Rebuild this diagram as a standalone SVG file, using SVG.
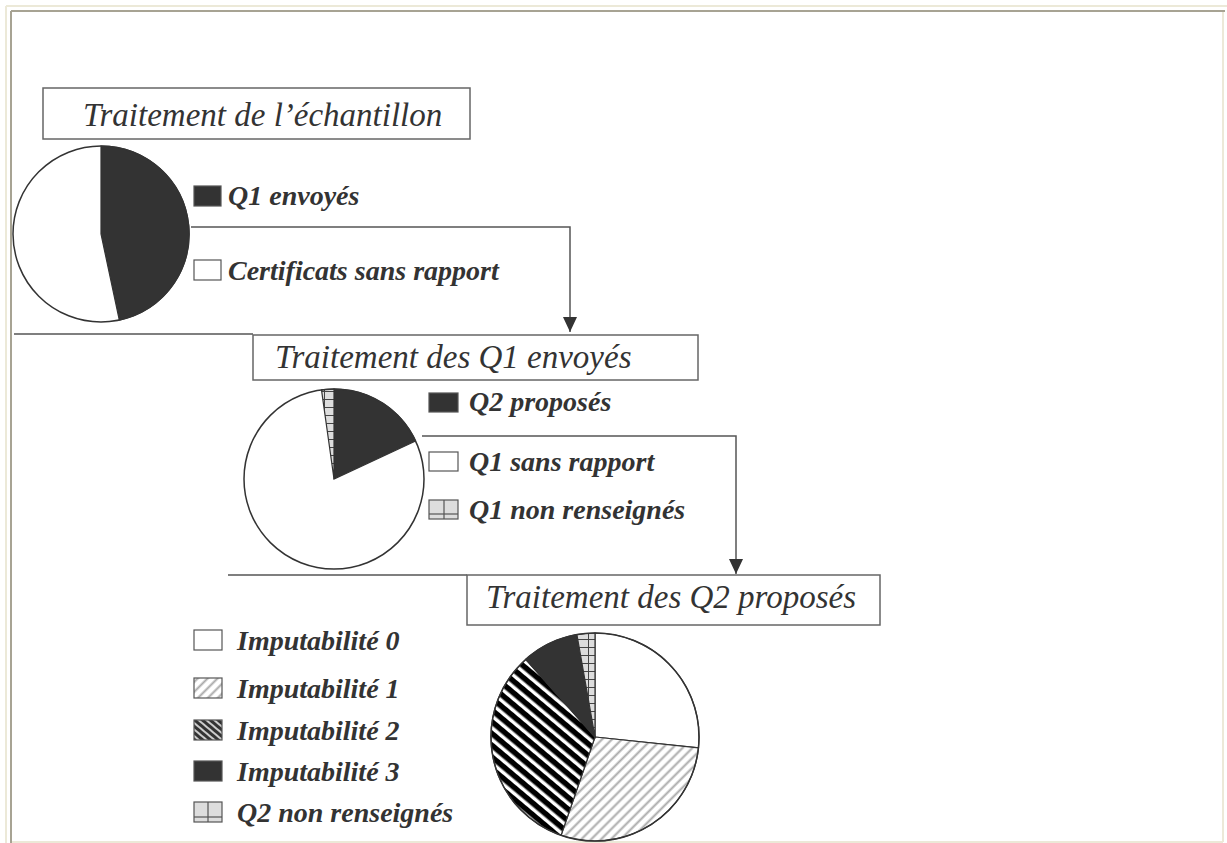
<svg xmlns="http://www.w3.org/2000/svg" width="1227" height="843" viewBox="0 0 1227 843">
<style>
.frameL{stroke:#ECE9D8;stroke-width:2;fill:none}
.frameD{stroke:#A7A393;stroke-width:2;fill:none}
.box{fill:#fff;stroke:#666;stroke-width:1.5}
.title{font-family:"Liberation Serif",serif;font-style:italic;font-size:33px;fill:#333}
.leg{font-family:"Liberation Serif",serif;font-style:italic;font-weight:bold;font-size:28px;fill:#333}
.sl{stroke:#333;stroke-width:1.2}
.rim{fill:none;stroke:#333;stroke-width:1.5}
.conn{fill:none;stroke:#555;stroke-width:1.5}
.sq{stroke:#555;stroke-width:1.2}
.dark{fill:#333}
.white{fill:#fff}
</style>
<defs>
<pattern id="hatchLight" patternUnits="userSpaceOnUse" width="7" height="7" patternTransform="rotate(-45)">
<rect width="7" height="7" fill="#fff"/>
<line x1="0" y1="3.5" x2="7" y2="3.5" stroke="#aaa" stroke-width="2"/>
</pattern>
<pattern id="stripesBW" patternUnits="userSpaceOnUse" width="9" height="9" patternTransform="rotate(40)">
<rect width="9" height="9" fill="#fff"/>
<rect y="0" width="9" height="5.5" fill="#000"/>
</pattern>
<pattern id="stripesLeg" patternUnits="userSpaceOnUse" width="5" height="5" patternTransform="rotate(40)">
<rect width="5" height="5" fill="#ccc"/>
<rect width="5" height="3" fill="#333"/>
</pattern>
<pattern id="grid" patternUnits="userSpaceOnUse" width="12" height="8">
<rect width="12" height="8" fill="#ddd"/>
<line x1="0" y1="7.5" x2="12" y2="7.5" stroke="#444" stroke-width="1"/>
<line x1="0.5" y1="0" x2="0.5" y2="8" stroke="#444" stroke-width="1"/>
</pattern>
<marker id="arr" viewBox="0 0 15 14" refX="15" refY="7" markerWidth="15" markerHeight="14" markerUnits="userSpaceOnUse" orient="auto">
<path d="M0,0 L15,7 L0,14 Z" fill="#333"/>
</marker>
</defs>

<g id="frame">
<line class="frameL" x1="6" y1="6" x2="1227" y2="6"/>
<line class="frameL" x1="6" y1="6" x2="6" y2="843"/>
<line class="frameL" x1="1223" y1="11" x2="1223" y2="842"/>
<line class="frameL" x1="12" y1="842" x2="1223" y2="842"/>
<line class="frameD" x1="11" y1="11" x2="1225" y2="11"/>
<line class="frameD" x1="11" y1="11" x2="11" y2="843"/>
</g>

<g id="connectors">
<path class="conn" d="M191,227 H570 V332" marker-end="url(#arr)"/>
<path class="conn" d="M422,436 H736 V574" marker-end="url(#arr)"/>
<line class="conn" x1="14" y1="334" x2="253" y2="334"/>
<line class="conn" x1="228" y1="575" x2="467" y2="575"/>
</g>

<g id="box1">
<rect class="box" x="43" y="88" width="427" height="51"/>
<text class="title" x="83" y="126">Traitement de l’échantillon</text>
</g>

<g id="pie1">
<circle cx="101" cy="234" r="88" fill="#fff"/>
<path class="dark sl" d="M101,234 L101,146 A88,88 0 0 1 119.3,320.1 Z"/>
<circle class="rim" cx="101" cy="234" r="88"/>
</g>

<g id="legend1">
<rect class="sq dark" x="194" y="186" width="27" height="20"/>
<text class="leg" x="228" y="205">Q1 envoyés</text>
<rect class="sq white" x="194" y="260" width="27" height="20"/>
<text class="leg" x="228" y="280">Certificats sans rapport</text>
</g>

<g id="box2">
<rect class="box" x="253" y="335" width="445" height="45"/>
<text class="title" x="275" y="368">Traitement des Q1 envoyés</text>
</g>

<g id="pie2">
<circle cx="334" cy="479" r="90" fill="#fff"/>
<path class="dark sl" d="M334,479 L334,389 A90,90 0 0 1 415.6,441.0 Z"/>
<path fill="url(#grid)" class="sl" d="M334,479 L321.5,389.9 A90,90 0 0 1 334,389 Z"/>
<circle class="rim" cx="334" cy="479" r="90"/>
</g>

<g id="legend2">
<rect class="sq dark" x="429" y="393" width="29" height="19"/>
<text class="leg" x="469" y="411">Q2 proposés</text>
<rect class="sq white" x="429" y="452" width="29" height="19"/>
<text class="leg" x="469" y="471">Q1 sans rapport</text>
<g>
<rect x="429" y="500" width="29" height="19" fill="#ddd" stroke="#555" stroke-width="1.2"/>
<line x1="444" y1="500" x2="444" y2="519" stroke="#555" stroke-width="1.2"/>
<line x1="429" y1="514" x2="458" y2="514" stroke="#555" stroke-width="1.2"/>
</g>
<text class="leg" x="469" y="519">Q1 non renseignés</text>
</g>

<g id="box3">
<rect class="box" x="467" y="575" width="413" height="50"/>
<text class="title" x="486" y="608">Traitement des Q2 proposés</text>
</g>

<g id="pie3">
<circle cx="595" cy="737" r="104" fill="#fff"/>
<path class="white sl" d="M595,737 L595,633 A104,104 0 0 1 698.5,747.9 Z"/>
<path fill="url(#hatchLight)" class="sl" d="M595,737 L698.5,747.9 A104,104 0 0 1 561.1,835.3 Z"/>
<path fill="url(#stripesBW)" class="sl" d="M595,737 L561.1,835.3 A104,104 0 0 1 525.7,659.4 Z"/>
<path class="dark sl" d="M595,737 L525.7,659.4 A104,104 0 0 1 576.9,634.6 Z"/>
<path fill="url(#grid)" class="sl" d="M595,737 L576.9,634.6 A104,104 0 0 1 595,633 Z"/>
<circle class="rim" cx="595" cy="737" r="104"/>
</g>

<g id="legend3">
<rect class="sq white" x="194" y="630" width="28" height="20"/>
<text class="leg" x="237" y="650">Imputabilité 0</text>
<rect class="sq" fill="url(#hatchLight)" x="194" y="678" width="28" height="20"/>
<text class="leg" x="237" y="698">Imputabilité 1</text>
<rect class="sq" fill="url(#stripesLeg)" x="194" y="720" width="28" height="20"/>
<text class="leg" x="237" y="740">Imputabilité 2</text>
<rect class="sq dark" x="194" y="761" width="28" height="20"/>
<text class="leg" x="237" y="781">Imputabilité 3</text>
<g>
<rect x="194" y="802" width="28" height="20" fill="#ddd" stroke="#555" stroke-width="1.2"/>
<line x1="208" y1="802" x2="208" y2="822" stroke="#555" stroke-width="1.2"/>
<line x1="194" y1="817" x2="222" y2="817" stroke="#555" stroke-width="1.2"/>
</g>
<text class="leg" x="237" y="822">Q2 non renseignés</text>
</g>
</svg>
